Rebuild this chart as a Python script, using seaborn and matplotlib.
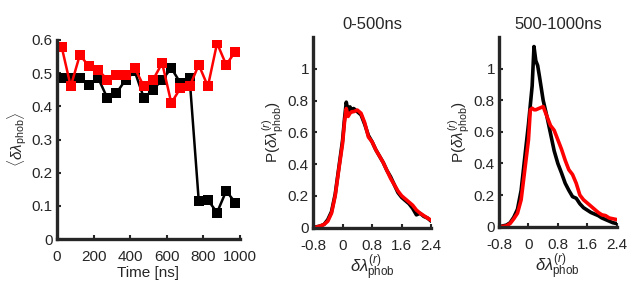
import numpy as np
import matplotlib
matplotlib.use("Agg")
import matplotlib.pyplot as plt
import seaborn as sns

# time series (left panel)
time_ns = [25, 75, 125, 175, 225, 275, 325, 375, 425, 475,
           525, 575, 625, 675, 725, 775, 825, 875, 925, 975]
black_avg = [0.485, 0.485, 0.485, 0.465, 0.485, 0.425, 0.44, 0.48, 0.505, 0.425,
             0.45, 0.48, 0.515, 0.47, 0.485, 0.115, 0.118, 0.08, 0.145, 0.11]
red_avg = [0.58, 0.46, 0.555, 0.52, 0.51, 0.48, 0.495, 0.495, 0.515, 0.46,
           0.48, 0.53, 0.41, 0.455, 0.46, 0.525, 0.46, 0.59, 0.525, 0.565]

# distributions
dl = [-0.8, -0.7, -0.6, -0.5, -0.4, -0.3, -0.2, -0.1, 0.0,
      0.05, 0.1, 0.15, 0.2, 0.25, 0.3,
      0.4, 0.5, 0.6, 0.7, 0.8, 0.9, 1.0, 1.1, 1.2, 1.3, 1.4, 1.5,
      1.6, 1.7, 1.8, 1.9, 2.0, 2.1, 2.2, 2.3, 2.4]
p_early_black = [0.0, 0.005, 0.01, 0.02, 0.05, 0.1, 0.21, 0.38, 0.55,
                 0.68, 0.79, 0.73, 0.76, 0.74, 0.75,
                 0.73, 0.71, 0.65, 0.58, 0.54, 0.49, 0.45, 0.41, 0.36, 0.32, 0.27, 0.22,
                 0.19, 0.17, 0.15, 0.12, 0.08, 0.09, 0.07, 0.06, 0.04]
p_early_red = [0.0, 0.003, 0.01, 0.02, 0.04, 0.09, 0.2, 0.37, 0.53,
               0.66, 0.75, 0.7, 0.72, 0.73, 0.73,
               0.74, 0.72, 0.66, 0.57, 0.54, 0.49, 0.45, 0.41, 0.36, 0.31, 0.27, 0.23,
               0.2, 0.18, 0.16, 0.14, 0.11, 0.09, 0.075, 0.06, 0.045]
p_late_black = [0.0, 0.005, 0.01, 0.025, 0.06, 0.11, 0.23, 0.44, 0.65,
                0.77, 0.89, 1.14, 1.05, 1.02, 0.95,
                0.8, 0.7, 0.59, 0.48, 0.4, 0.34, 0.275, 0.23, 0.19, 0.18, 0.145, 0.12,
                0.105, 0.09, 0.08, 0.07, 0.055, 0.045, 0.035, 0.025, 0.02]
p_late_red = [0.0, 0.002, 0.005, 0.02, 0.05, 0.085, 0.17, 0.36, 0.55,
              0.74, 0.75, 0.74, 0.74, 0.745, 0.75,
              0.76, 0.7, 0.64, 0.61, 0.55, 0.49, 0.42, 0.36, 0.33, 0.275, 0.2, 0.17,
              0.15, 0.13, 0.11, 0.09, 0.075, 0.07, 0.055, 0.05, 0.045]

sns.set_style("ticks")
plt.rcParams['font.family'] = ['Liberation Sans', 'DejaVu Sans']
plt.rcParams['mathtext.fontset'] = 'custom'
plt.rcParams['mathtext.rm'] = 'Liberation Sans'
plt.rcParams['mathtext.it'] = 'Liberation Sans:italic'
plt.rcParams['font.size'] = 11

RED = '#ff0000'
fig = plt.figure(figsize=(6.35, 2.83), dpi=100)
ax1 = fig.add_axes([0.0898, 0.155, 0.288, 0.704])
ax2 = fig.add_axes([0.493, 0.196, 0.186, 0.673])
ax3 = fig.add_axes([0.786, 0.199, 0.185, 0.670])


def style(ax):
    sns.despine(ax=ax)
    for s in ['left', 'bottom']:
        ax.spines[s].set_linewidth(2.4)
        ax.spines[s].set_color('#262626')
    ax.tick_params(direction='in', length=3, width=1.5, labelsize=11,
                   colors='#262626')
    ax.tick_params(axis='x', pad=8)
    ax.tick_params(axis='y', pad=3)


sns.lineplot(x=time_ns, y=black_avg, color='black', marker='s', markersize=7.5,
             markeredgewidth=0, linewidth=1.8, ax=ax1)
sns.lineplot(x=time_ns, y=red_avg, color=RED, marker='s', markersize=7.5,
             markeredgewidth=0, linewidth=1.8, ax=ax1)
ax1.set_xlim(0, 1000)
ax1.set_ylim(0, 0.6)
ax1.set_xticks([0, 200, 400, 600, 800, 1000])
ax1.set_yticks([0, 0.1, 0.2, 0.3, 0.4, 0.5, 0.6])
ax1.set_yticklabels(['0', '0.1', '0.2', '0.3', '0.4', '0.5', '0.6'])
ax1.set_xlabel('Time [ns]', fontsize=11, labelpad=1)
ax1.set_ylabel(r'$\langle\delta\lambda_{\rm phob}\rangle$', fontsize=11, labelpad=2)
style(ax1)

for ax, pb, pr, title in [(ax2, p_early_black, p_early_red, '0-500ns'),
                          (ax3, p_late_black, p_late_red, '500-1000ns')]:
    sns.lineplot(x=dl, y=pb, color='black', linewidth=2.6, ax=ax)
    sns.lineplot(x=dl, y=pr, color=RED, linewidth=2.6, ax=ax)
    ax.set_xlim(-0.8, 2.4)
    ax.set_ylim(0, 1.2)
    ax.set_xticks([-0.8, 0, 0.8, 1.6, 2.4])
    ax.set_xticklabels(['-0.8', '0', '0.8', '1.6', '2.4'])
    ax.set_yticks([0, 0.2, 0.4, 0.6, 0.8, 1.0])
    ax.set_yticklabels(['0', '0.2', '0.4', '0.6', '0.8', '1'])
    ax.set_xlabel(r'$\delta\lambda^{(r)}_{\rm phob}$', fontsize=12, labelpad=0)
    ax.set_ylabel(r'P($\delta\lambda^{(r)}_{\rm phob}$)', fontsize=11, labelpad=1)
    ax.set_title(title, fontsize=12, pad=6)
    style(ax)

fig.savefig('out.png', dpi=100)
